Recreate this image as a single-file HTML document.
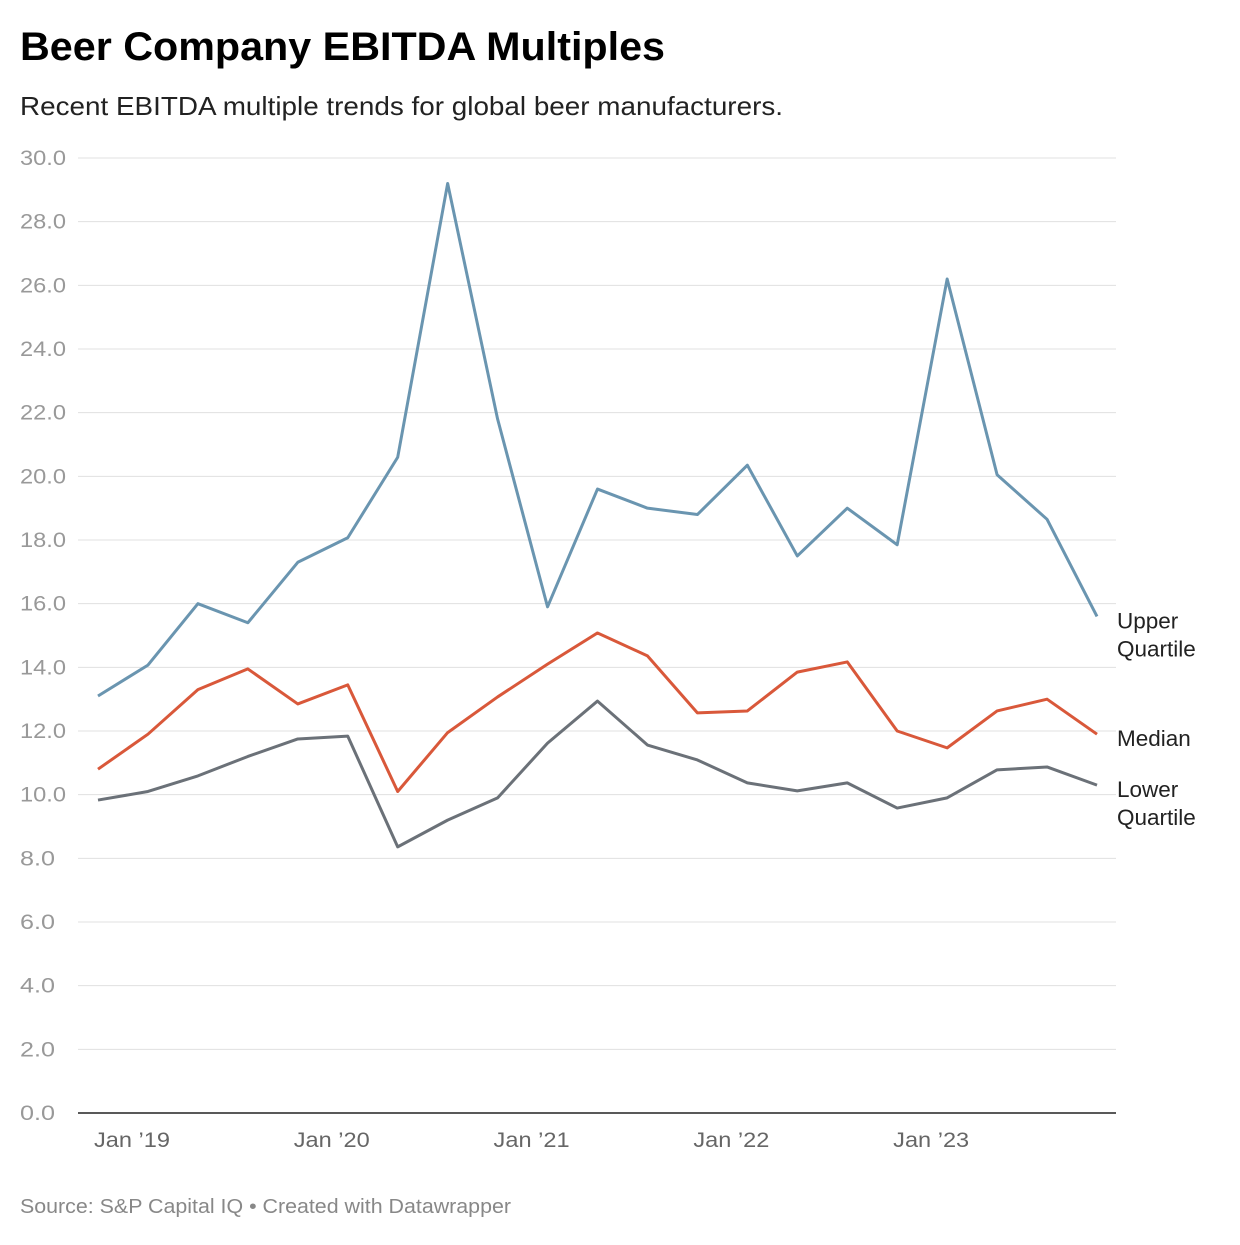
<!DOCTYPE html>
<html><head><meta charset="utf-8">
<style>
html,body{margin:0;padding:0;background:#fff;}
body{width:1240px;height:1240px;overflow:hidden;font-family:"Liberation Sans",sans-serif;}
</style></head>
<body>
<svg id="chart" width="1240" height="1240" xmlns="http://www.w3.org/2000/svg" font-family="Liberation Sans, sans-serif">
<text x="20" y="60" font-size="40" font-weight="bold" fill="#000" textLength="645" lengthAdjust="spacingAndGlyphs">Beer Company EBITDA Multiples</text>
<text x="20" y="115" font-size="26" fill="#222" textLength="763" lengthAdjust="spacingAndGlyphs">Recent EBITDA multiple trends for global beer manufacturers.</text>
<text x="20" y="1213" font-size="20" fill="#888" textLength="491" lengthAdjust="spacingAndGlyphs">Source: S&amp;P Capital IQ • Created with Datawrapper</text>
<g id="grid"></g><g id="lines"></g><g id="labels"></g>
</svg>
<script>
const yTicks = [0,2,4,6,8,10,12,14,16,18,20,22,24,26,28,30];
const xTickLabels = ["Jan ’19","Jan ’20","Jan ’21","Jan ’22","Jan ’23"];
const xTickIndex = [0.68,4.68,8.68,12.68,16.68];
const upper = [13.1,14.07,16.0,15.4,17.3,18.07,20.6,29.2,21.8,15.9,19.6,19.0,18.8,20.35,17.5,19.0,17.85,26.2,20.05,18.65,15.6];
const median = [10.8,11.9,13.3,13.95,12.85,13.45,10.1,11.95,13.07,14.1,15.08,14.36,12.57,12.63,13.85,14.17,12.0,11.47,12.63,13.0,11.9];
const lower = [9.83,10.1,10.59,11.2,11.75,11.84,8.36,9.2,9.9,11.62,12.94,11.56,11.09,10.37,10.12,10.37,9.58,9.9,10.78,10.87,10.3];

const NS="http://www.w3.org/2000/svg";
const y = v => 1113 - v*(955/30);
const x = i => 98 + i*49.95;
function mk(tag, attrs, parent){const e=document.createElementNS(NS,tag);for(const k in attrs)e.setAttribute(k,attrs[k]);parent.appendChild(e);return e;}
const grid=document.getElementById('grid'), lines=document.getElementById('lines'), labels=document.getElementById('labels');
yTicks.forEach(v=>{
  const l=mk('line',{x1:78,x2:1116,y1:y(v),y2:y(v),stroke:v===0?'#222':'#e0e0e0','stroke-width':v===0?1.5:1},grid);
  
  
  const s=v.toFixed(1);
  const t=mk('text',{x:20,y:y(v)+7,'font-size':21,fill:'#999',textLength:s.length===4?46:35,lengthAdjust:'spacingAndGlyphs'},grid);
  t.textContent=s;
  
  
});
xTickLabels.forEach((s,k)=>{
  const t=mk('text',{x:x(xTickIndex[k]),y:1147,'font-size':21,fill:'#666','text-anchor':'middle',textLength:76,lengthAdjust:'spacingAndGlyphs'},grid);
  t.textContent=s;
  
  
});
function series(data,color,name,lab){
  const p=mk('polyline',{points:data.map((v,i)=>x(i)+','+y(v)).join(' '),fill:'none',stroke:color,'stroke-width':3,'stroke-linejoin':'round'},lines);
  
  
  const last=data[data.length-1];
  const t=mk('text',{x:1117,y:y(last)+12,'font-size':22.5,fill:'#222'},labels);
  lab.forEach((s,k)=>{const ts=mk('tspan',{x:1117,dy:k?28:0},t);ts.textContent=s;});
  
  
}
series(lower,'#6b7178','lower-quartile',['Lower','Quartile']);
series(median,'#d9583a','median',['Median']);
series(upper,'#6a95b0','upper-quartile',['Upper','Quartile']);
</script>
</body></html>
